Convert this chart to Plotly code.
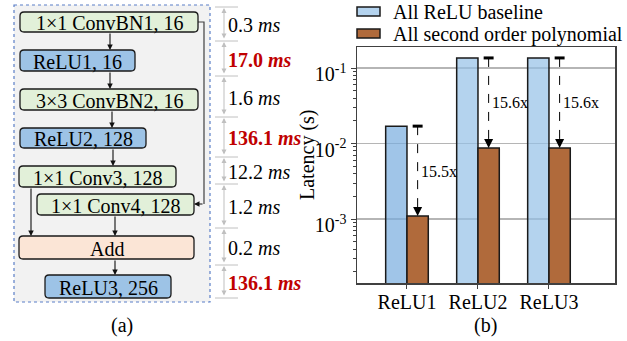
import math
import plotly.graph_objects as go

W, H = 627, 341
FONT = "Liberation Serif"
FS = 20

# ---------------- data ----------------
categories = ["ReLU1", "ReLU2", "ReLU3"]
series_names = ["All ReLU baseline", "All second order polynomial"]
baseline_s = [0.0170, 0.1361, 0.1361]
poly_s = [0.0011, 0.00872, 0.00872]
speedup_labels = ["15.5x", "15.6x", "15.6x"]
ytick_vals = [1e-3, 1e-2, 1e-1]
ytick_text = ["10<sup>-3</sup>", "10<sup>-2</sup>", "10<sup>-1</sup>"]

block_labels = ["1×1 ConvBN1, 16", "ReLU1, 16", "3×3 ConvBN2, 16", "ReLU2, 128",
                "1×1 Conv3, 128", "1×1 Conv4, 128", "Add", "ReLU3, 256"]
block_kinds = ["conv", "relu", "conv", "relu", "conv", "conv", "add", "relu"]
layer_latency_ms = [0.3, 17.0, 1.6, 136.1, 12.2, 1.2, 0.2, 136.1]
latency_highlight = [False, True, False, True, False, False, False, True]

# ---------------- styling / layout geometry (pixels) ----------------
kind_fill = {"conv": "#E2F0D9", "relu": "#9DC3E6", "add": "#FBE5D6"}
blue_fills = ["rgba(119,172,222,0.7)", "rgba(148,192,231,0.7)", "rgba(148,192,231,0.7)"]
blue_swatch = "#B4D3EE"
orange_fill = "#B06A3B"
red = "#C00000"

block_boxes = [(20, 12, 198, 32), (20, 50, 135, 71), (20, 89, 198, 110), (20, 128, 146, 148),
               (19, 166, 176, 187), (37, 194, 194, 215), (19, 236, 194, 259), (45, 275, 171, 298)]
sep_y = [7, 41, 76, 117, 157, 184, 228, 265, 298]
flow_arrows = [((110, 32), (110, 50)), ((110, 71), (110, 89)), ((112, 110), (112, 128)),
               ((113, 148), (113, 166)), ((31, 187), (31, 236)), ((115, 215), (115, 236)),
               ((115, 259), (115, 275)), ((204, 204), (194, 204))]

fig = go.Figure()

# bar chart
fig.add_trace(go.Bar(x=categories, y=baseline_s, name=series_names[0], showlegend=False,
                     marker=dict(color=blue_fills, line=dict(color="#1a1a1a", width=1.5))))
fig.add_trace(go.Bar(x=categories, y=poly_s, name=series_names[1], showlegend=False,
                     marker=dict(color=orange_fill, line=dict(color="#1a1a1a", width=1.5))))
# pixel-space helper axis for the diagram
fig.add_trace(go.Scatter(x=[], y=[], xaxis="x2", yaxis="y2", showlegend=False, hoverinfo="skip"))

shapes = []
annotations = []

def px_ann(x, y, text, **kw):
    d = dict(x=x, y=y, xref="x2", yref="y2", text=text, showarrow=False,
             font=dict(family=FONT, size=FS, color="black"))
    d.update(kw)
    annotations.append(d)

def rounded(x0, y0, x1, y1, r=4):
    return (f"M{x0+r},{y0} L{x1-r},{y0} Q{x1},{y0} {x1},{y0+r} L{x1},{y1-r} "
            f"Q{x1},{y1} {x1-r},{y1} L{x0+r},{y1} Q{x0},{y1} {x0},{y1-r} "
            f"L{x0},{y0+r} Q{x0},{y0} {x0+r},{y0} Z")

# container
shapes.append(dict(type="rect", xref="x2", yref="y2", x0=14, y0=5, x1=210, y1=302,
                   fillcolor="#F2F2F2", line=dict(color="#5B7FC7", width=1.2, dash="dot"),
                   layer="below"))
# skip connection line
shapes.append(dict(type="path", xref="x2", yref="y2", path="M198,22 L204,22 L204,204",
                   line=dict(color="#404040", width=1.2)))
# blocks
for lab, kind, (x0, y0, x1, y1) in zip(block_labels, block_kinds, block_boxes):
    shapes.append(dict(type="path", xref="x2", yref="y2", path=rounded(x0, y0, x1, y1),
                       fillcolor=kind_fill[kind], line=dict(color="#1a1a1a", width=1.3)))
    px_ann((x0 + x1) / 2, (y0 + y1) / 2 + 1, lab)
# flow arrows
for (tx, ty), (hx, hy) in flow_arrows:
    annotations.append(dict(x=hx, y=hy, ax=tx, ay=ty, xref="x2", yref="y2", axref="x2",
                            ayref="y2", text="", showarrow=True, arrowhead=2, arrowsize=1,
                            arrowwidth=1.1, arrowcolor="#111"))
# latency dimension lines
for y in sep_y:
    shapes.append(dict(type="line", xref="x2", yref="y2", x0=215, x1=238, y0=y, y1=y,
                       line=dict(color="#C0C0C0", width=1)))
for i, (val, hl) in enumerate(zip(layer_latency_ms, latency_highlight)):
    ya, yb = sep_y[i], sep_y[i + 1]
    annotations.append(dict(x=224, y=ya, ax=224, ay=yb, xref="x2", yref="y2", axref="x2",
                            ayref="y2", text="", showarrow=True, arrowside="end+start",
                            arrowhead=2, startarrowhead=2, arrowsize=1, startarrowsize=1,
                            arrowwidth=1, arrowcolor="#BFBFBF", standoff=1, startstandoff=1))
    txt = f"{val:.1f} <i>ms</i>"
    if hl:
        px_ann(226, (ya + yb) / 2 + 1, f"<b>{txt}</b>", xanchor="left",
               font=dict(family=FONT, size=FS, color=red))
    else:
        px_ann(226, (ya + yb) / 2 + 1, txt, xanchor="left")

# sub-captions & axis title
px_ann(122, 325, "(a)")
px_ann(485, 325, "(b)")
px_ann(307, 155, "Latency (s)", textangle=-90)

# legend (manual)
for k, (name, col) in enumerate(zip(series_names, [blue_swatch, orange_fill])):
    y0 = 7 + k * 22
    shapes.append(dict(type="rect", xref="x2", yref="y2", x0=357, x1=380, y0=y0, y1=y0 + 9,
                       fillcolor=col, line=dict(color="#1a1a1a", width=1.5)))
    px_ann(391, y0 + 5, name, xanchor="left")

# speedup arrows in the bar chart
for i, (b, p, lab) in enumerate(zip(baseline_s, poly_s, speedup_labels)):
    xp = i + 0.15
    shapes.append(dict(type="line", xref="x", yref="y", x0=xp, x1=xp, y0=b, y1=p,
                       line=dict(color="black", width=1, dash="dash")))
    shapes.append(dict(type="line", xref="x", yref="y", x0=xp - 0.07, x1=xp + 0.07, y0=b, y1=b,
                       line=dict(color="black", width=3)))
    annotations.append(dict(x=xp, y=math.log10(p), xref="x", yref="y", ax=0, ay=-10,
                            text="", showarrow=True, arrowhead=2, arrowsize=1.8,
                            arrowwidth=1, arrowcolor="black"))
    annotations.append(dict(x=xp, y=(math.log10(b) + math.log10(p)) / 2, xref="x", yref="y",
                            text=lab, showarrow=False, xanchor="left", xshift=1,
                            font=dict(family=FONT, size=16, color="black")))

minor_vals = [k * 10 ** e for e in range(-4, 0) for k in range(2, 10)]

fig.update_layout(
    width=W, height=H, margin=dict(l=0, r=0, t=0, b=0),
    paper_bgcolor="white", plot_bgcolor="rgba(0,0,0,0)",
    font=dict(family=FONT, size=FS, color="black"),
    barmode="group", bargap=0.4, bargroupgap=0,
    shapes=shapes, annotations=annotations,
    xaxis=dict(domain=[357 / W, 615 / W], range=[-0.704, 2.93], showline=True, mirror=True,
               linecolor="#404040", linewidth=1.5, ticks="outside", ticklen=4,
               tickcolor="#404040", tickfont=dict(size=FS), showgrid=False, fixedrange=True,
               ticklabelstandoff=-4),
    yaxis=dict(domain=[1 - 283 / H, 1 - 47 / H], type="log",
               range=[math.log10(1.42e-4), math.log10(0.19)],
               tickmode="array", tickvals=ytick_vals, ticktext=ytick_text,
               ticks="outside", ticklen=5, tickcolor="#404040", tickfont=dict(size=FS),
               ticklabelshift=6,
               showline=True, mirror=True, linecolor="#404040", linewidth=1.5,
               showgrid=True, gridcolor="#B5B5B5", gridwidth=1.2,
               minor=dict(ticks="outside", ticklen=3, tickcolor="#404040", tickmode="array",
                          tickvals=minor_vals, showgrid=False),
               fixedrange=True),
    xaxis2=dict(domain=[0, 1], range=[0, W], visible=False, anchor="y2", fixedrange=True),
    yaxis2=dict(domain=[0, 1], range=[H, 0], visible=False, anchor="x2", fixedrange=True),
)

fig.write_html("out.html", config={"displayModeBar": False, "staticPlot": True},
               post_script="document.body.style.margin='0px';")
